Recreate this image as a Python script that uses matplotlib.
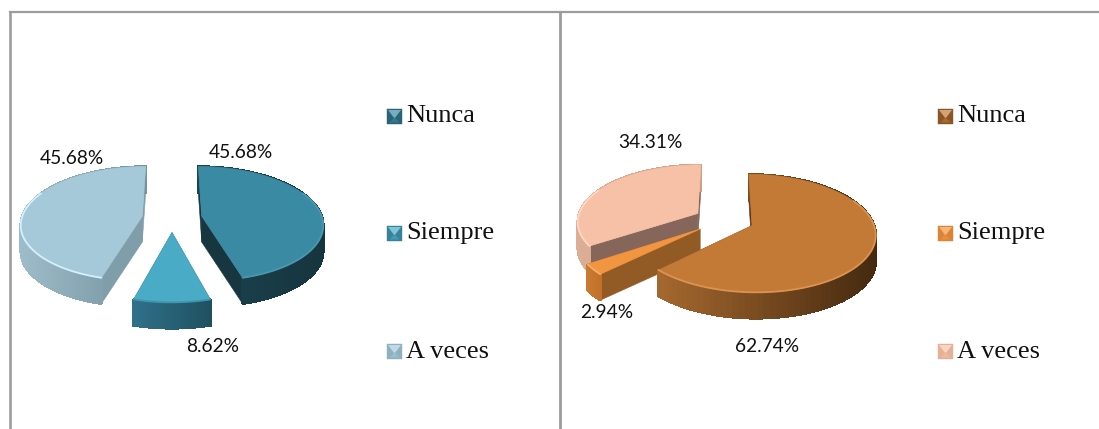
import numpy as np
import matplotlib
matplotlib.use('Agg')
import matplotlib.pyplot as plt
from matplotlib.colors import to_rgb
from matplotlib.patches import Polygon

categories = ['Nunca', 'Siempre', 'A veces']
left_values = [45.68, 8.62, 45.68]
right_values = [62.74, 2.94, 34.31]

# slice styles: top, rim highlight, wall left, wall right, cut wall
left_styles = [
    ('#3a8aa3', '#4a98af', '#1b4451', '#16343e', '#17363f'),
    ('#4aabc6', '#3f95ae', '#2f7089', '#1f5060', '#1f5060'),
    ('#a5c9d8', '#d3f0fb', '#9dbbc8', '#74919e', '#7f9ea9'),
]
right_styles = [
    ('#c47a37', '#dc9350', '#a5682f', '#44290f', '#5a3817'),
    ('#f29540', '#f7ad68', '#c97a30', '#c07028', '#925b26'),
    ('#f6c1a6', '#fbd8c6', '#dcae96', '#cf9d84', '#86665a'),
]

RX = 120.5
RY = 56.5
PERSP = 0.13
EXPLODE = 0.25
DEPTH = 26


def project(cx, cy, u, v):
    s = 1 / (1 + PERSP * v)
    return cx + RX * u * s, cy - RY * v * s


def shade(c1, c2, t):
    a, b = np.array(to_rgb(c1)), np.array(to_rgb(c2))
    return tuple(a + (b - a) * t)


def draw_slice(ax, cx, cy, start, end, style):
    top, rim, wall_l, wall_r, cut = style
    mid = np.radians((start + end) / 2)
    ou, ov = EXPLODE * np.sin(mid), EXPLODE * np.cos(mid)
    th = np.radians(np.linspace(start, end, 90))
    ax_, ay_ = project(cx, cy, ou, ov)
    xs, ys = project(cx, cy, ou + np.sin(th), ov + np.cos(th))

    # cut faces
    for i in (0, -1):
        quad = [(ax_, ay_), (xs[i], ys[i]), (xs[i], ys[i] + DEPTH), (ax_, ay_ + DEPTH)]
        ax.add_patch(Polygon(quad, fc=cut, ec=cut, lw=0.4))

    # outer wall with left to right shading
    x0, x1 = xs.min(), xs.max()
    for i in range(len(xs) - 1):
        t = ((xs[i] + xs[i + 1]) / 2 - x0) / max(x1 - x0, 1)
        c = shade(wall_l, wall_r, t)
        quad = [(xs[i], ys[i]), (xs[i + 1], ys[i + 1]),
                (xs[i + 1], ys[i + 1] + DEPTH), (xs[i], ys[i] + DEPTH)]
        ax.add_patch(Polygon(quad, fc=c, ec=c, lw=1.1, antialiased=False))

    # top face and bevel
    pts = [(ax_, ay_)] + list(zip(xs, ys))
    ax.add_patch(Polygon(pts, fc=top, ec=top, lw=0.5))
    front = np.cos(th) < 0.45
    ax.plot(np.where(front, xs, np.nan), np.where(front, ys, np.nan),
            color=rim, lw=1.3, solid_capstyle='round')


def draw_pie(ax, cx, cy, values, styles, order):
    shares = np.array(values) / sum(values) * 360
    ends = np.cumsum(shares)
    starts = ends - shares
    for i in order:
        draw_slice(ax, cx, cy, starts[i], ends[i], styles[i])


def draw_marker(ax, x, y, size, style):
    top, _, wall_l, wall_r, _ = style
    x2, y2 = x + size, y + size
    mx, my = x + size / 2, y + size / 2
    base = shade(top, wall_r, 0.45)
    ax.add_patch(Polygon([(x, y), (x2, y), (x2, y2), (x, y2)], fc=base, ec=base, lw=0.3))
    ax.add_patch(Polygon([(x + 1, y + 1), (x2 - 1, y + 1), (mx, my + 2)],
                         fc=shade(top, '#ffffff', 0.3), ec='none'))
    ax.add_patch(Polygon([(x + 2.5, y2 - 1.5), (x2 - 2.5, y2 - 1.5), (mx, my + 1)],
                         fc=shade(top, wall_r, 0.2), ec='none'))


fig = plt.figure(figsize=(10.99, 4.29), dpi=100)
ax = fig.add_axes([0, 0, 1, 1])
ax.set_xlim(0, 1099)
ax.set_ylim(429, 0)
ax.axis('off')

# frame
frame = '#9c9c9c'
ax.plot([9.5, 1099], [12, 12], color=frame, lw=1.6)
ax.plot([9.5, 9.5], [12, 429], color=frame, lw=1.9)
ax.plot([560, 560], [12, 429], color=frame, lw=2.0)

draw_pie(ax, 172, 218, left_values, left_styles, [2, 0, 1])
draw_pie(ax, 724, 220, right_values, right_styles, [2, 1, 0])

label_font = dict(family='Lato', fontsize=13.8, color='#111111', ha='center', va='center')
left_label_pos = [(241, 152), (213, 347), (72, 158)]
right_label_pos = [(767, 347), (607, 313), (650, 143)]
for vals, spots in ((left_values, left_label_pos), (right_values, right_label_pos)):
    for v, (x, y) in zip(vals, spots):
        ax.text(x, y, f'{v:.2f}%', **label_font)

legend_y = [116, 233, 351]
for marker_x, styles in ((387, left_styles), (938, right_styles)):
    for name, y, style in zip(categories, legend_y, styles):
        draw_marker(ax, marker_x, y - 7, 15, style)
        ax.text(marker_x + 19, y + 0.5, name, family='Liberation Serif', fontsize=19,
                color='#111111', ha='left', va='center')

fig.savefig('out.png', dpi=100)
